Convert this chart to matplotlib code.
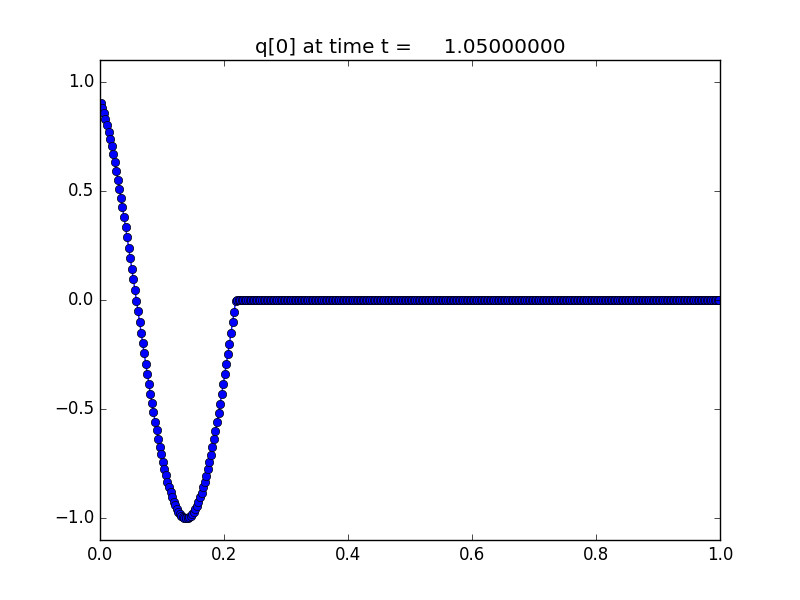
import matplotlib
matplotlib.use("Agg")
import matplotlib.pyplot as plt
import numpy as np

# number of grid cells on [0, 1]
num_cells = 400
frame_time = 1.05

# q[0] for the first cells (the wave),
# everything to the right of x ~ 0.22 sits at zero
q_wave = [
    0.902, 0.879, 0.855, 0.828, 0.800, 0.770, 0.738, 0.704, 0.668, 0.631,
    0.592, 0.552, 0.511, 0.468, 0.424, 0.379, 0.334, 0.287, 0.240, 0.192,
    0.144, 0.095, 0.046, -0.003, -0.052, -0.101, -0.149, -0.197, -0.245, -0.292,
    -0.339, -0.384, -0.429, -0.473, -0.515, -0.557, -0.597, -0.635, -0.672, -0.708,
    -0.741, -0.773, -0.803, -0.832, -0.858, -0.882, -0.904, -0.924, -0.941, -0.957,
    -0.970, -0.981, -0.989, -0.995, -0.999, -1.000, -0.999, -0.995, -0.989, -0.981,
    -0.971, -0.958, -0.942, -0.925, -0.905, -0.883, -0.859, -0.833, -0.805, -0.775,
    -0.743, -0.710, -0.674, -0.637, -0.599, -0.559, -0.518, -0.475, -0.432, -0.387,
    -0.341, -0.295, -0.248, -0.200, -0.152, -0.103, -0.055, -0.006,
]
q_rest = [0.0] * (num_cells - len(q_wave))

x_ticks = [0.0, 0.2, 0.4, 0.6, 0.8, 1.0]
y_ticks = [-1.0, -0.5, 0.0, 0.5, 1.0]


def plot_frame():
    plt.style.use("classic")
    # cell centres
    dx = 1.0 / num_cells
    xc = np.arange(num_cells) * dx + dx / 2
    q = np.array(q_wave + q_rest)

    fig = plt.figure(figsize=(8, 6), dpi=100)
    plt.plot(xc, q, "bo-")
    plt.xlim(0.0, 1.0)
    plt.ylim(-1.1, 1.1)
    plt.xticks(x_ticks)
    plt.yticks(y_ticks)
    plt.title("q[0] at time t = %14.8f" % frame_time)
    fig.savefig("out.png", dpi=100)


def main():
    plot_frame()


if __name__ == "__main__":
    main()
